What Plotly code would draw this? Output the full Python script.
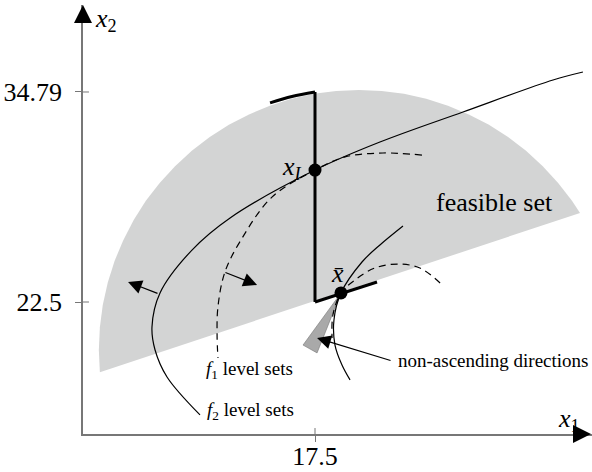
import plotly.graph_objects as go

# ---- data (in axis units) ----
x_ticks = [17.5]
x_tick_text = ["17.5"]
y_ticks = [22.5, 34.79]
y_tick_text = ["22.5", "34.79"]

# feasible set: chord (lower edge) + circular arc
feas_x = [4.91, 33.01, 32.54, 31.73, 30.83, 29.85, 28.80, 27.68, 26.50, 25.28, 24.01,
          22.71, 21.40, 20.07, 18.74, 17.43, 16.13, 14.86, 13.64, 12.46, 11.34, 10.29,
          9.31, 8.41, 7.60, 6.89, 6.28, 5.77, 5.37, 5.08, 4.91, 4.85, 4.91]
feas_y = [18.39, 27.71, 28.42, 29.47, 30.45, 31.35, 32.16, 32.87, 33.48, 33.99, 34.39,
          34.68, 34.85, 34.91, 34.85, 34.68, 34.39, 33.99, 33.48, 32.87, 32.16, 31.35,
          30.45, 29.47, 28.42, 27.30, 26.12, 24.90, 23.63, 22.33, 21.02, 19.69, 18.39]

# f2 level set through x_I (solid)
f2a_x = [33.18, 31.43, 26.16, 21.30, 17.5, 12.53, 10.30, 8.43, 7.96, 8.14, 8.84, 10.77]
f2a_y = [35.96, 35.49, 33.62, 31.86, 30.22, 27.42, 25.54, 23.03, 21.04, 19.69, 18.11, 15.89]

# f1 level set through x_I (dashed)
f1a_x = [23.76, 21.48, 19.26, 17.5, 14.98, 13.17, 12.23, 11.82, 11.77, 11.82]
f1a_y = [31.10, 31.22, 30.99, 30.22, 28.64, 26.13, 24.26, 22.21, 20.57, 19.22]

# f2 level set through x_bar (solid)
f2b_x = [22.65, 21.30, 20.25, 19.02, 18.61, 18.67, 19.08, 19.55]
f2b_y = [26.95, 25.84, 24.84, 23.03, 21.45, 19.98, 18.81, 17.94]

# f1 level set through x_bar (dashed)
f1b_x = [24.82, 23.64, 22.36, 21.01, 19.84, 19.02, 18.55, 18.50]
f1b_y = [23.61, 24.49, 24.72, 24.49, 23.79, 23.03, 21.74, 20.39]

# cone of non-ascending directions
cone_x = [19.02, 16.80, 17.62, 19.02]
cone_y = [23.03, 19.98, 19.52, 23.03]

# bold segments
bold_v_x = [17.5, 17.5]
bold_v_y = [22.5, 34.79]
bold_top_x = [17.5, 16.15, 14.87]
bold_top_y = [34.79, 34.53, 34.15]
bold_bot_x = [17.5, 21.13]
bold_bot_y = [22.5, 23.67]

# points
pts_x = [17.5, 19.02]
pts_y = [30.22, 23.03]

# arrows (tail -> head)
arrows = [
    (8.37, 22.97, 6.56, 23.67),
    (12.17, 24.26, 14.11, 23.50),
    (22.01, 19.05, 17.62, 20.39),
]

x_range = [3.923, 33.711]
y_range = [14.775, 39.881]

FONT = "Liberation Serif"

fig = go.Figure()

fig.add_trace(go.Scatter(x=feas_x, y=feas_y, mode="lines", fill="toself",
                         fillcolor="#d3d4d4", line=dict(width=0), hoverinfo="skip"))
fig.add_trace(go.Scatter(x=cone_x, y=cone_y, mode="lines", fill="toself",
                         fillcolor="#a9a9a9", line=dict(width=0.6, color="#777"), hoverinfo="skip"))

thin = dict(color="black", width=1.2, shape="spline", smoothing=1)
dashed = dict(color="black", width=1.2, shape="spline", smoothing=1, dash="7px,5px")
fig.add_trace(go.Scatter(x=f2a_x, y=f2a_y, mode="lines", line=thin, hoverinfo="skip"))
fig.add_trace(go.Scatter(x=f1a_x, y=f1a_y, mode="lines", line=dashed, hoverinfo="skip"))
fig.add_trace(go.Scatter(x=f2b_x, y=f2b_y, mode="lines", line=thin, hoverinfo="skip"))
fig.add_trace(go.Scatter(x=f1b_x, y=f1b_y, mode="lines", line=dashed, hoverinfo="skip"))

bold = dict(color="black", width=3)
fig.add_trace(go.Scatter(x=bold_v_x, y=bold_v_y, mode="lines", line=bold, hoverinfo="skip"))
fig.add_trace(go.Scatter(x=bold_top_x, y=bold_top_y, mode="lines",
                         line=dict(color="black", width=3, shape="spline"), hoverinfo="skip"))
fig.add_trace(go.Scatter(x=bold_bot_x, y=bold_bot_y, mode="lines", line=bold, hoverinfo="skip"))

fig.add_trace(go.Scatter(x=pts_x, y=pts_y, mode="markers",
                         marker=dict(color="black", size=13), hoverinfo="skip"))

# inner halves of crossing tick marks
shapes = []
for xv in x_ticks:
    shapes.append(dict(type="line", xref="x", yref="y", x0=xv, x1=xv,
                       y0=y_range[0], y1=y_range[0] + 0.35,
                       line=dict(color="#777", width=1)))
for yv in y_ticks:
    shapes.append(dict(type="line", xref="x", yref="y", y0=yv, y1=yv,
                       x0=x_range[0], x1=x_range[0] + 0.35,
                       line=dict(color="#777", width=1)))

ann = []
for tx, ty, hx, hy in arrows:
    ann.append(dict(x=hx, y=hy, ax=tx, ay=ty, xref="x", yref="y", axref="x", ayref="y",
                    text="", showarrow=True, arrowhead=2, arrowsize=2.3, arrowwidth=1.2,
                    arrowcolor="black", standoff=0))
# axis arrowheads
ann.append(dict(x=0, y=1, xref="paper", yref="paper", ax=0, ay=18, text="",
                showarrow=True, arrowhead=2, arrowsize=2.4, arrowwidth=1.5,
                arrowcolor="black", standoff=0))
ann.append(dict(x=1, y=0, xref="paper", yref="paper", ax=-18, ay=0, text="",
                showarrow=True, arrowhead=2, arrowsize=2.4, arrowwidth=1.5,
                arrowcolor="black", standoff=0))

big = dict(family=FONT, size=26, color="black")
small = dict(family=FONT, size=19, color="black")
labels = [
    ("<i>x</i><sub>2</sub>", 4.51, 39.00, "left", big),
    ("<i>x</i><sub>1</sub>", 31.60, 15.59, "left", big),
    ("<i>x</i><sub><i>I</i></sub>", 16.86, 30.34, "right", big),
    ("<i>x\u0304</i>", 18.79, 24.14, "center", big),
    ("feasible set", 28.03, 28.35, "center", big),
    ("<i>f</i><sub>1</sub> level sets", 11.00, 18.52, "left", small),
    ("<i>f</i><sub>2</sub> level sets", 11.06, 16.12, "left", small),
    ("non-ascending directions", 22.24, 19.05, "left", small),
]
for t, x, y, xa, f in labels:
    ann.append(dict(x=x, y=y, xref="x", yref="y", text=t, showarrow=False,
                    xanchor=xa, yanchor="middle", font=f))

fig.update_layout(
    width=592, height=472,
    margin=dict(l=83, r=0, t=5, b=38),
    paper_bgcolor="white", plot_bgcolor="white",
    showlegend=False,
    shapes=shapes, annotations=ann,
    xaxis=dict(range=x_range, showgrid=False, zeroline=False, showline=True,
               automargin=False,
               linecolor="#777", linewidth=1.5, tickvals=x_ticks, ticktext=x_tick_text,
               ticks="outside", ticklen=6, tickcolor="#777", tickwidth=1,
               ticklabelstandoff=-8, tickfont=big, fixedrange=True),
    yaxis=dict(range=y_range, showgrid=False, zeroline=False, showline=True,
               automargin=False,
               linecolor="#777", linewidth=1.5, tickvals=y_ticks, ticktext=y_tick_text,
               ticks="outside", ticklen=6, tickcolor="#777", tickwidth=1,
               ticklabelstandoff=8, tickfont=big, fixedrange=True),
)

fig.write_html("out.html", config={"displayModeBar": False},
               post_script="document.body.style.margin='0px';document.body.style.overflow='hidden';")
